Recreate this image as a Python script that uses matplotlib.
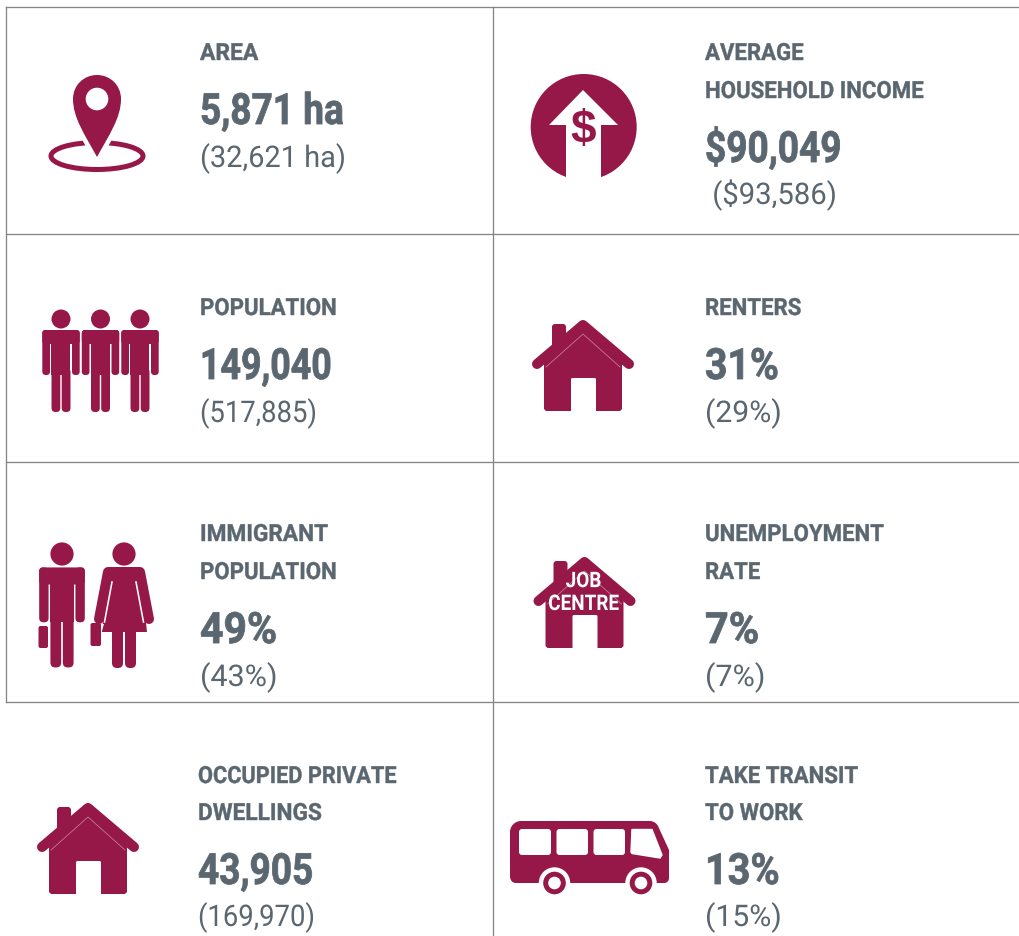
import matplotlib

matplotlib.use("Agg")
import matplotlib.pyplot as plt
from matplotlib.patches import Circle, Ellipse, FancyBboxPatch, PathPatch, Polygon, Rectangle
from matplotlib.path import Path
from matplotlib.patheffects import AbstractPathEffect
from matplotlib.transforms import Affine2D

W, H = 1019, 936
BURGUNDY = "#961848"
SLATE = "#5b6770"
GRID = "#858585"
PX = 0.72  # one pixel in points at dpi 100
FONT = ["Roboto", "DejaVu Sans"]

# left column, then right column
labels_left = ["AREA", "POPULATION", "IMMIGRANT\nPOPULATION", "OCCUPIED PRIVATE\nDWELLINGS"]
values_left = ["5,871 ha", "149,040", "49%", "43,905"]
compare_left = ["(32,621 ha)", "(517,885)", "(43%)", "(169,970)"]

labels_right = ["AVERAGE\nHOUSEHOLD INCOME", "RENTERS", "UNEMPLOYMENT\nRATE", "TAKE TRANSIT\nTO WORK"]
values_right = ["$90,049", "31%", "7%", "13%"]
compare_right = [" ($93,586)", "(29%)", "(7%)", "(15%)"]

# no condensed font is installed, so the glyphs get squeezed sideways
value_sx_left = [0.86, 0.83, 0.95, 0.86]
value_sx_right = [0.86, 0.91, 0.96, 0.92]
compare_sx_left = [0.97, 0.92, 1.02, 0.92]
compare_sx_right = [0.98, 1.01, 1.02, 1.01]
LABEL_SX = 0.94
label_sx_lines = {"AREA": 0.97, "IMMIGRANT": 0.96, "OCCUPIED PRIVATE": 0.92, "DWELLINGS": 0.96}


class Squeeze(AbstractPathEffect):
    def __init__(self, sx, bold=0, centered=False):
        super().__init__()
        self.sx = sx
        self.bold = bold
        self.centered = centered

    def draw_path(self, renderer, gc, tpath, affine, rgbFace=None):
        shift = tpath.get_extents().x0 + tpath.get_extents().width / 2 if self.centered else 0
        squeezed = Affine2D().translate(-shift, 0).scale(self.sx, 1).translate(shift, 0) + affine
        if self.bold:
            gc0 = renderer.new_gc()
            gc0.copy_properties(gc)
            gc0.set_foreground(rgbFace[:3])
            gc0.set_linewidth(self.bold)
            renderer.draw_path(gc0, tpath, squeezed, rgbFace)
            gc0.restore()
        else:
            renderer.draw_path(gc, tpath, squeezed, rgbFace)


fig = plt.figure(figsize=(W / 100, H / 100), dpi=100)
ax = fig.add_axes([0, 0, 1, 1])
ax.set_xlim(0, W)
ax.set_ylim(H, 0)
ax.axis("off")


def rbox(x0, y0, x1, y1, r, color=BURGUNDY, z=3):
    ax.add_patch(FancyBboxPatch((x0 + r, y0 + r), x1 - x0 - 2 * r, y1 - y0 - 2 * r,
                                boxstyle=f"round,pad={r},rounding_size={r}",
                                fc=color, ec="none", zorder=z))


def person(cx, head_y, s):
    # standing man, s = 1 is the small one in the population row
    ax.add_patch(Circle((cx, head_y), 9.5 * s, fc=BURGUNDY, ec="none", zorder=3))
    top = head_y + 11 * s
    rbox(cx - 18.7 * s, top, cx + 18.7 * s, top + 14 * s, 3 * s)
    rbox(cx - 18.7 * s, top, cx - 11 * s, top + 45 * s, 3.5 * s)
    rbox(cx + 11 * s, top, cx + 18.7 * s, top + 45 * s, 3.5 * s)
    ax.add_patch(Rectangle((cx - 9.5 * s, top + 3 * s), 19 * s, 42 * s, fc=BURGUNDY, ec="none", zorder=3))
    rbox(cx - 9.5 * s, top + 38 * s, cx - 0.7 * s, top + 82 * s, 4 * s)
    rbox(cx + 0.7 * s, top + 38 * s, cx + 9.5 * s, top + 82 * s, 4 * s)


def house(dx, dy):
    # coordinates are for the renters icon
    rbox(552 + dx, 324 + dy, 566 + dx, 360 + dy, 3)
    ax.add_patch(Polygon([(544 + dx, 358 + dy), (583 + dx, 326 + dy), (622 + dx, 358 + dy),
                          (622 + dx, 409 + dy), (620 + dx, 411 + dy), (546 + dx, 411 + dy),
                          (544 + dx, 409 + dy)], fc=BURGUNDY, ec="none", zorder=3))
    ax.plot([537 + dx, 583 + dx, 629 + dx], [364 + dy, 325 + dy, 364 + dy], color=BURGUNDY,
            lw=10 * PX, solid_capstyle="round", solid_joinstyle="round", zorder=3)
    ax.plot([546 + dx, 583 + dx, 620 + dx], [367 + dy, 334 + dy, 367 + dy], color="#c07a95",
            lw=0.6, zorder=4)
    rbox(571 + dx, 378 + dy, 596 + dx, 416 + dy, 1.5, color="white", z=4)
    ax.add_patch(Rectangle((565 + dx, 411 + dy), 40, 8, fc="white", ec="none", zorder=4))


# table rules
for y in [6.5, 233.8, 461.8, 701.8]:
    ax.plot([6, W], [y, y], color=GRID, lw=1.3 * PX, zorder=1)
ax.plot([6.5, 6.5], [6.5, 701.8], color=GRID, lw=1.3 * PX, zorder=1)
ax.plot([493.5, 493.5], [6.5, H], color=GRID, lw=1.3 * PX, zorder=1)

# map pin
ax.add_patch(Ellipse((97, 156), 92, 27, fc="none", ec=BURGUNDY, lw=5 * PX, zorder=2))
pin = Path([(97, 157), (85, 135), (73, 118), (73, 99), (73, 85), (84, 75), (97, 75),
            (110, 75), (121, 85), (121, 99), (121, 118), (109, 135), (97, 157)],
           [Path.MOVETO, Path.CURVE4, Path.CURVE4, Path.CURVE4, Path.CURVE4, Path.CURVE4, Path.CURVE4,
            Path.CURVE4, Path.CURVE4, Path.CURVE4, Path.CURVE4, Path.CURVE4, Path.CURVE4])
ax.add_patch(PathPatch(pin, fc="white", ec="white", lw=9 * PX, zorder=3))
ax.add_patch(PathPatch(pin, fc=BURGUNDY, ec="none", zorder=4))
ax.add_patch(Circle((97, 99), 11.3, fc="white", ec="none", zorder=5))

# income circle with arrow
ax.add_patch(Circle((583.7, 127), 53, fc=BURGUNDY, ec="none", zorder=3))
ax.add_patch(Polygon([(583, 90), (618, 125), (601, 125), (601, 182), (566, 182), (566, 125), (549, 125)],
                     fc="white", ec="none", zorder=4))
ax.text(583, 131, "$", color=BURGUNDY, fontsize=33, fontweight="bold", family=["Liberation Sans", "DejaVu Sans"],
        ha="center", va="center", zorder=5)

# population row
for cx in [61, 100.5, 140]:
    person(cx, 319, 1)

house(0, 0)

# man and woman with cases
person(62, 554, 1.22)
rbox(38.5, 626, 48, 648, 2)
ax.add_patch(Circle((124, 554), 11.6, fc=BURGUNDY, ec="none", zorder=3))
ax.add_patch(Polygon([(108, 567), (140, 567), (147, 632), (102, 632)], fc=BURGUNDY, ec="none", zorder=3))
ax.plot([108, 99], [572, 619], color=BURGUNDY, lw=10 * PX, solid_capstyle="round", zorder=3)
ax.plot([140, 149], [572, 619], color=BURGUNDY, lw=10 * PX, solid_capstyle="round", zorder=3)
ax.plot([112, 104.5], [582, 622], color="white", lw=1.6 * PX, zorder=4)
ax.plot([136, 143.5], [582, 622], color="white", lw=1.6 * PX, zorder=4)
ax.add_patch(Polygon([(104, 624), (92, 624), (92, 640), (101.5, 632)], fc="white", ec="none", zorder=4))
rbox(112, 625, 123, 668, 5)
rbox(125, 625, 136, 668, 5)
rbox(90.5, 623, 101, 646, 2, z=5)

# job centre house
house(1.5, 237)
ax.text(583.5, 610, "JOB\nCENTRE", color="white", fontsize=15.5, fontweight="bold", family=FONT, ha="center",
        va="baseline", multialignment="center", linespacing=1.05, zorder=6,
        path_effects=[Squeeze(0.88, centered=True)])

# dwellings house
house(-495, 483)

# bus
bus = Path([(510, 832), (510, 826), (515, 821), (521, 821), (650, 821), (654, 821), (657, 824), (658, 826),
            (669, 850), (669, 878), (669, 881), (667, 883), (664, 883), (516, 883), (512, 883), (510, 880),
            (510, 876), (510, 832)],
           [Path.MOVETO, Path.CURVE4, Path.CURVE4, Path.CURVE4, Path.LINETO, Path.CURVE4, Path.CURVE4, Path.CURVE4,
            Path.LINETO, Path.LINETO, Path.CURVE4, Path.CURVE4, Path.CURVE4, Path.LINETO, Path.CURVE4, Path.CURVE4,
            Path.CURVE4, Path.CLOSEPOLY])
ax.add_patch(PathPatch(bus, fc=BURGUNDY, ec="none", zorder=3))
for x0, x1 in [(519, 551), (556.5, 588), (593.5, 625)]:
    rbox(x0, 829, x1, 855, 3, color="white", z=4)
ax.add_patch(Polygon([(632, 829.5), (652, 829.5), (662, 855), (660, 858), (632, 853.5), (631, 852)],
                     fc="white", ec="white", lw=1, joinstyle="round", zorder=4))
for cx in [554.5, 641]:
    ax.add_patch(Circle((cx, 883), 15.7, fc="white", ec="none", zorder=4))
    ax.add_patch(Circle((cx, 883), 11.3, fc=BURGUNDY, ec="none", zorder=5))
    ax.add_patch(Circle((cx, 883), 6.3, fc="white", ec="none", zorder=6))

# text blocks, baselines are per row
label_y = [[60], [315], [541, 579], [783, 820]]
value_y = [124, 379, 643, 884]
compare_y = [167, 422, 686, 926]
label_y_right = [[60, 98], [315], [541, 579], [783, 820]]
value_y_right = [162, 379, 643, 884]
compare_y_right = [204, 422, 686, 926]
x_left = [200, 200, 200, 198]
x_right = [705, 705, 705, 705]


def block(x, label, value, comp, ys, vy, cy, vsx, csx):
    for line, y in zip(label.split("\n"), ys):
        ax.text(x, y, line, color=SLATE, fontsize=17, fontweight="bold", family=FONT, va="baseline", zorder=6,
                path_effects=[Squeeze(label_sx_lines.get(line, LABEL_SX), bold=0.3)])
    ax.text(x, vy, value, color=SLATE, fontsize=31, fontweight="bold", family=FONT, va="baseline", zorder=6,
            path_effects=[Squeeze(vsx, bold=0.6)])
    ax.text(x, cy, comp, color=SLATE, fontsize=21.5, family=FONT, va="baseline", zorder=6,
            path_effects=[Squeeze(csx)])


for i in range(4):
    block(x_left[i], labels_left[i], values_left[i], compare_left[i], label_y[i], value_y[i], compare_y[i],
          value_sx_left[i], compare_sx_left[i])
    block(x_right[i], labels_right[i], values_right[i], compare_right[i], label_y_right[i], value_y_right[i],
          compare_y_right[i], value_sx_right[i], compare_sx_right[i])

fig.savefig("out.png", dpi=100)
